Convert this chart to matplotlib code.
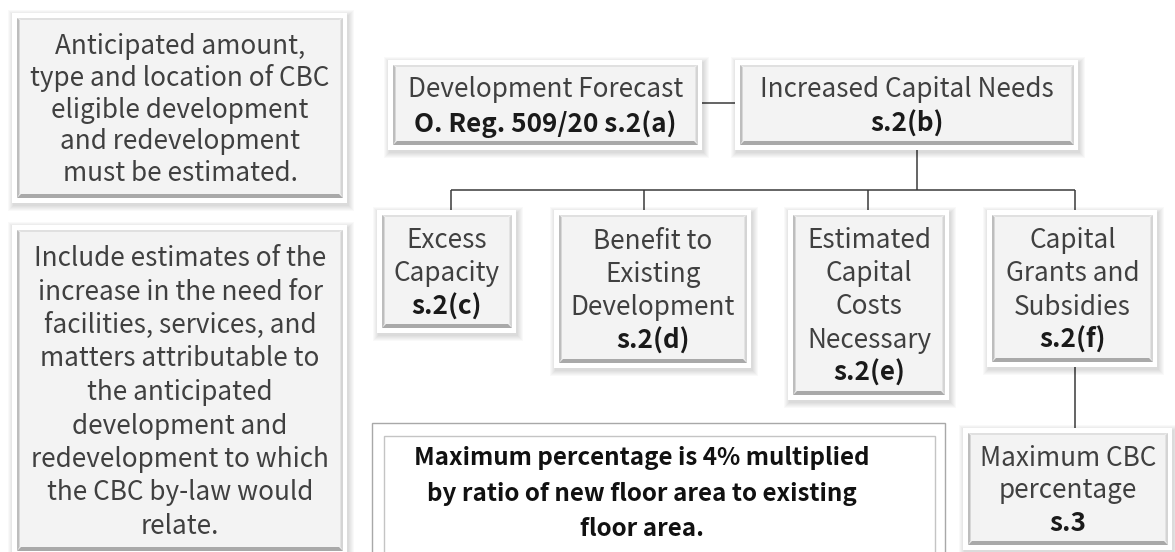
import matplotlib
matplotlib.use("Agg")
import matplotlib.pyplot as plt
from matplotlib.patches import Rectangle, Polygon

plt.rcParams['font.family'] = ['Noto Sans CJK JP', 'DejaVu Sans']

# ---- content (text of each box: list of (line, is_bold)) ----
box_A_lines = [("Anticipated amount,", False), ("type and location of CBC", False),
               ("eligible development", False), ("and redevelopment", False),
               ("must be estimated.", False)]
box_B_lines = [("Include estimates of the", False), ("increase in the need for", False),
               ("facilities, services, and", False), ("matters attributable to", False),
               ("the anticipated", False), ("development and", False),
               ("redevelopment to which", False), ("the CBC by-law would", False),
               ("relate.", False)]
dev_forecast_lines = [("Development Forecast", False), ("O. Reg. 509/20 s.2(a)", True)]
cap_needs_lines = [("Increased Capital Needs", False), ("s.2(b)", True)]
excess_lines = [("Excess", False), ("Capacity", False), ("s.2(c)", True)]
benefit_lines = [("Benefit to", False), ("Existing", False), ("Development", False), ("s.2(d)", True)]
estimated_lines = [("Estimated", False), ("Capital", False), ("Costs", False),
                   ("Necessary", False), ("s.2(e)", True)]
grants_lines = [("Capital", False), ("Grants and", False), ("Subsidies", False), ("s.2(f)", True)]
max_cbc_lines = [("Maximum CBC", False), ("percentage", False), ("s.3", True)]
max_pct_lines = [("Maximum percentage is 4% multiplied", True),
                 ("by ratio of new floor area to existing", True),
                 ("floor area.", True)]

W, H = 1175, 552
fig = plt.figure(figsize=(W / 100, H / 100), dpi=100)
ax = fig.add_axes([0, 0, 1, 1])
ax.set_xlim(0, W)
ax.set_ylim(H, 0)
ax.axis('off')

TXT = '#404040'
BOLD = '#1a1a1a'
LINE = '#3a3a3a'
FS = 18.8
FS_NOTE = 17.4


def bevel_box(x0, y0, x1, y1):
    # soft shadow
    for k in range(1, 7):
        ax.add_patch(Rectangle((x0 - k + 1.5, y0 - k + 2.5), (x1 - x0) + 2 * k - 1, (y1 - y0) + 2 * k - 1,
                               facecolor='#000000', edgecolor='none', alpha=0.022, zorder=1))
    ax.add_patch(Rectangle((x0, y0), x1 - x0, y1 - y0, facecolor='white', edgecolor='none', zorder=2))
    ix0, iy0, ix1, iy1 = x0 + 5, y0 + 5, x1 - 4, y1 - 5
    ax.add_patch(Rectangle((ix0, iy0), ix1 - ix0, iy1 - iy0, facecolor='#f3f3f3', edgecolor='none', zorder=3))
    b = 4
    # top bevel
    ax.add_patch(Polygon([(ix0, iy0), (ix1, iy0), (ix1 - b, iy0 + 2), (ix0 + b, iy0 + 2)],
                         closed=True, facecolor='#e0e0e0', edgecolor='none', zorder=4))
    # left bevel
    ax.add_patch(Polygon([(ix0, iy0), (ix0 + 2.5, iy0 + 2), (ix0 + 2.5, iy1 - b), (ix0, iy1)],
                         closed=True, facecolor='#bdbdbd', edgecolor='none', zorder=4))
    # right bevel
    ax.add_patch(Polygon([(ix1, iy0), (ix1 - 2.5, iy0 + 2), (ix1 - 2.5, iy1 - b), (ix1, iy1)],
                         closed=True, facecolor='#d4d4d4', edgecolor='none', zorder=4))
    # bottom bevel
    ax.add_patch(Polygon([(ix0, iy1), (ix1, iy1), (ix1 - b, iy1 - b), (ix0 + b, iy1 - b)],
                         closed=True, facecolor='#a9a9a9', edgecolor='none', zorder=4))


def box_text(lines, cx, cy, spacing, size=FS, normal_color=TXT):
    n = len(lines)
    for i, (t, bold) in enumerate(lines):
        y = cy + (i - (n - 1) / 2) * spacing
        ax.text(cx, y, t, ha='center', va='center_baseline', fontsize=size,
                fontweight='bold' if bold else 'normal',
                color=BOLD if bold else normal_color, zorder=6)


def node(lines, x0, y0, x1, y1, spacing, size=FS):
    bevel_box(x0, y0, x1, y1)
    box_text(lines, (x0 + x1) / 2 + 0.5, (y0 + y1) / 2 - 1, spacing, size)


# connectors
def seg(xs, ys):
    ax.plot(xs, ys, color=LINE, lw=1.1, solid_capstyle='butt', zorder=0.5)

seg([702, 735], [103, 103])
seg([917, 917], [150, 190])
seg([451, 1075], [190, 190])
for x in (451, 644, 868, 1075):
    seg([x, x], [190, 210])
seg([1075, 1075], [367, 428])

# left info boxes
node(box_A_lines, 12, 13, 347, 203, 31.7)
node(box_B_lines, 12, 225, 347, 556, 33.5)

# top boxes
node(dev_forecast_lines, 388, 60, 702, 150, 35)
node(cap_needs_lines, 735, 60, 1078, 150, 35)

# children
node(excess_lines, 377, 210, 516, 333, 33.3)
node(benefit_lines, 554, 210, 751, 368, 33.3)
node(estimated_lines, 788, 210, 949, 400, 33.3)
node(grants_lines, 987, 210, 1157, 367, 33.3)
node(max_cbc_lines, 963, 428, 1172, 550, 32.5)

# bottom note box (double outline, white)
ax.add_patch(Rectangle((372, 423), 945 - 372, 140, facecolor='white', edgecolor='#a8a8a8', lw=1.0, zorder=2))
ax.add_patch(Rectangle((384, 436), 935 - 384, 130, facecolor='white', edgecolor='#c4c4c4', lw=1.0, zorder=3))
for i, (t, bold) in enumerate(max_pct_lines):
    ax.text(642, 455 + i * 36, t, ha='center', va='center_baseline', fontsize=FS_NOTE,
            fontweight='bold', color='#111111', zorder=6)

fig.savefig('out.png', dpi=100, facecolor='white')
